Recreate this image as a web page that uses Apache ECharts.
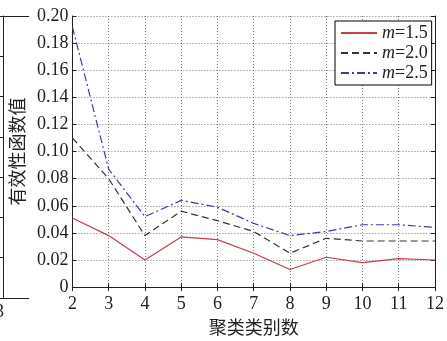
<!DOCTYPE html>
<html><head><meta charset="utf-8">
<script src="https://cdn.jsdelivr.net/npm/echarts@6/dist/echarts.min.js"></script>
<style>html,body{margin:0;padding:0;background:#fff}#c{width:447px;height:341px}</style>
</head><body><div id="c"></div>
<script>
const categories = [2,3,4,5,6,7,8,9,10,11,12];
const m15 = [0.051,0.038,0.020,0.037,0.035,0.025,0.013,0.022,0.018,0.021,0.020];
const m20 = [0.110,0.080,0.038,0.056,0.049,0.041,0.025,0.036,0.034,0.034,0.034];
const m25 = [0.192,0.087,0.052,0.064,0.059,0.047,0.038,0.041,0.046,0.046,0.044];
const seriesNames = ['1.5','2.0','2.5'];
const yTicks = [0,0.02,0.04,0.06,0.08,0.10,0.12,0.14,0.16,0.18,0.20];

const FONT = "Liberation Serif";
const CJK = "Noto Sans CJK SC";
const chart = echarts.init(document.getElementById('c'), null, {renderer:'canvas'});
const gridLine = {show:true, lineStyle:{color:'#7a7a7a', type:[1,2], width:1}};
const axisLine = {show:true, lineStyle:{color:'#222', width:1}};
const tick = {show:true, inside:true, length:4, lineStyle:{color:'#222'}};
function xy(arr){ return categories.map((c,i)=>[c,arr[i]]); }
chart.setOption({
  animation:false,
  backgroundColor:'#fff',
  grid:[{left:69, top:16, right:6, bottom:43},
        {left:-100, top:16, width:103, bottom:43}],
  graphic:[{type:'text', left:-5, top:303, silent:true,
            style:{text:'3', font:'18px Liberation Serif', fill:'#222'}}],
  legend:{
    orient:'vertical', left:335, top:21,
    padding:[3,4,3,5], itemGap:2, itemWidth:36, itemHeight:14,
    backgroundColor:'#fff', borderColor:'#000', borderWidth:1,
    itemStyle:{opacity:0},
    formatter: n => '{i|m}{n|=' + n + '}',
    textStyle:{fontFamily:FONT, fontSize:18, color:'#222',
      rich:{i:{fontStyle:'italic', fontFamily:FONT, fontSize:18, color:'#222'},
            n:{fontFamily:FONT, fontSize:18, color:'#222'}}},
    data: seriesNames
  },
  xAxis:[
    {type:'value', gridIndex:0, min:2, max:12, interval:1,
     name:'聚类类别数', nameLocation:'middle', nameGap:24,
     nameTextStyle:{fontFamily:CJK, fontSize:18, color:'#222'},
     axisLine, axisTick:tick, splitLine:gridLine,
     axisLabel:{fontFamily:FONT, fontSize:18, color:'#222', margin:8}},
    {type:'value', gridIndex:0, position:'top', min:2, max:12, interval:1,
     axisLine, axisTick:tick, splitLine:{show:false}, axisLabel:{show:false}},
    {type:'value', gridIndex:1, min:0, max:3,
     axisLine, axisTick:{show:false}, splitLine:{show:false}, axisLabel:{show:false}},
    {type:'value', gridIndex:1, position:'top', min:0, max:3,
     axisLine, axisTick:{show:false}, splitLine:{show:false}, axisLabel:{show:false}}
  ],
  yAxis:[
    {type:'value', gridIndex:0, min:0, max:0.2, interval:0.02,
     name:'有效性函数值', nameLocation:'middle', nameGap:46, nameRotate:90,
     nameTextStyle:{fontFamily:CJK, fontSize:18, color:'#222'},
     axisLine, axisTick:tick, splitLine:gridLine,
     axisLabel:{fontFamily:FONT, fontSize:18, color:'#222', margin:4,
       formatter: v => { const t = yTicks.find(k=>Math.abs(k-v)<1e-9); return t===0 ? '0' : (t!==undefined ? t.toFixed(2) : ''); }}},
    {type:'value', gridIndex:0, position:'right', min:0, max:0.2, interval:0.02,
     axisLine, axisTick:tick, splitLine:{show:false}, axisLabel:{show:false}},
    {type:'value', gridIndex:1, position:'right', min:0, max:7, interval:1,
     axisLine, axisTick:{show:true, inside:true, length:4, lineStyle:{color:'#222'}},
     splitLine:{show:false}, axisLabel:{show:false}}
  ],
  series:[
    {name:'1.5', type:'line', xAxisIndex:0, yAxisIndex:0, data:xy(m15), symbol:'none',
     lineStyle:{color:'#c83c4c', width:1.2, type:'solid'}, itemStyle:{color:'#c83c4c'}},
    {name:'2.0', type:'line', xAxisIndex:0, yAxisIndex:0, data:xy(m20), symbol:'none',
     lineStyle:{color:'#333', width:1.2, type:[7,4]}, itemStyle:{color:'#333'}},
    {name:'2.5', type:'line', xAxisIndex:0, yAxisIndex:0, data:xy(m25), symbol:'none',
     lineStyle:{color:'#3c3c9c', width:1.2, type:[8,3,2,3]}, itemStyle:{color:'#3c3c9c'}}
  ]
});
</script></body></html>
